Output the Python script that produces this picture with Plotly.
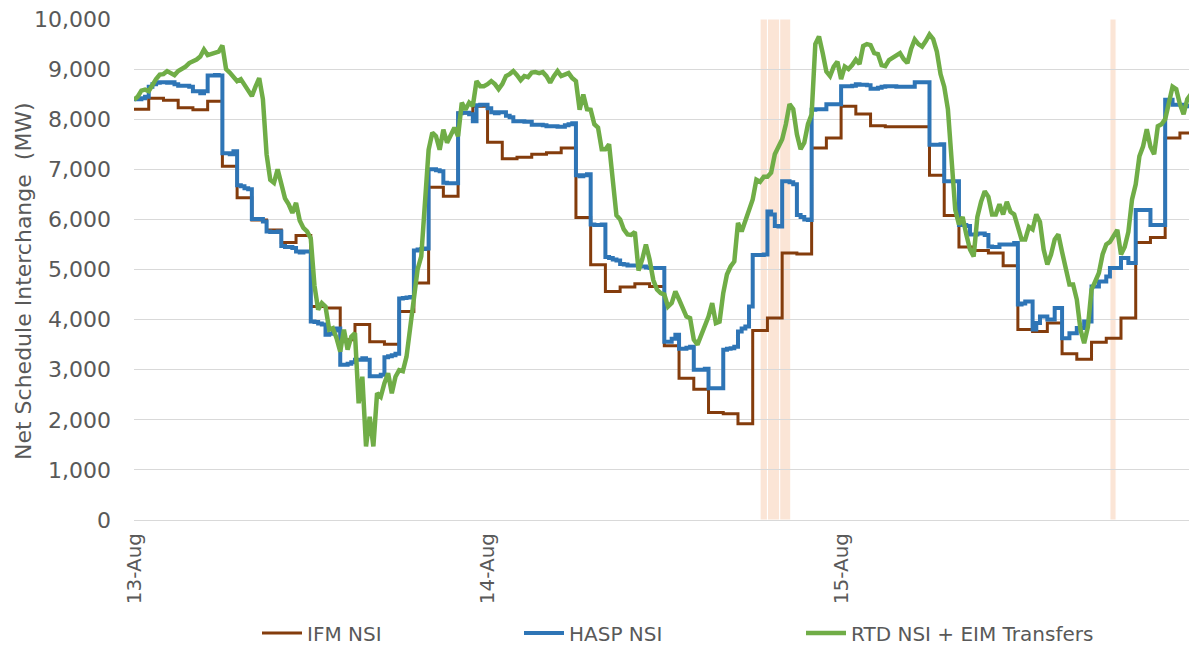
import pandas as pd
import plotly.graph_objects as go

START = "2020-08-13 00:00"
X_END = "2020-08-15 23:37"

series_names = ["IFM NSI", "HASP NSI", "RTD NSI + EIM Transfers"]
series_colors = ["#843C0C", "#2E75B6", "#70AD47"]
day_ticks = ["2020-08-13", "2020-08-14", "2020-08-15"]
y_ticks = list(range(0, 10001, 1000))

# IFM NSI, hourly (MW)
ifm_hourly = [
    8200, 8420, 8380, 8230, 8190, 8360, 7060, 6430, 5990, 5790, 5540, 5680,
    4260, 4230, 3600, 3900, 3560, 3510, 4160, 4730, 6640, 6460, 8125, 8260,
    7540, 7210, 7240, 7300, 7330, 7425, 6040, 5095, 4560, 4650, 4715, 4660,
    3480, 2830, 2610, 2145, 2120, 1920, 3780, 4030, 5330, 5310, 7425, 7625,
    8260, 8105, 7870, 7850, 7850, 7850, 6880, 6080, 5450, 5380, 5330, 5075,
    3800, 3760, 3930, 3320, 3210, 3550, 3630, 4030, 5540, 5640, 7625, 7725,
]

# HASP NSI, 15-minute (MW)
hasp_15min = [
    8400, 8400, 8420, 8450, 8650, 8700, 8730, 8740, 8740, 8730, 8740, 8700,
    8670, 8670, 8670, 8650, 8560, 8560, 8520, 8560, 8870, 8870, 8880, 8870,
    7320, 7320, 7300, 7360, 6680, 6660, 6620, 6600, 6010, 6010, 6010, 5960,
    5760, 5750, 5750, 5760, 5470, 5450, 5450, 5430, 5360, 5340, 5360, 5360,
    3960, 3950, 3920, 3900, 3700, 3720, 3780, 3820, 3100, 3100, 3120, 3150,
    3200, 3200, 3230, 3200, 2870, 2870, 2870, 2900, 3250, 3270, 3290, 3320,
    4420, 4430, 4440, 4450, 5380, 5400, 5410, 5420, 7000, 7000, 6980, 6960,
    6730, 6720, 6720, 6720, 8120, 8130, 8130, 8100, 7960, 8280, 8290, 8290,
    8220, 8140, 8120, 8140, 8140, 8070, 8040, 7960, 7960, 7960, 7950, 7950,
    7890, 7890, 7890, 7880, 7860, 7860, 7860, 7850, 7850, 7880, 7900, 7920,
    6880, 6860, 6880, 6900, 5900, 5890, 5890, 5900, 5250, 5230, 5200, 5180,
    5110, 5100, 5080, 5080, 5080, 5060, 5060, 5040, 5030, 5030, 5030, 5030,
    3560, 3560, 3620, 3700, 3420, 3420, 3440, 3460, 3000, 3000, 3000, 3020,
    2630, 2630, 2630, 2630, 3400, 3420, 3430, 3460, 3760, 3820, 3860, 4260,
    5290, 5290, 5290, 5300, 6160, 6100, 5870, 5860, 6760, 6760, 6740, 6700,
    6090, 6050, 6000, 5990, 8190, 8200, 8200, 8200, 8300, 8300, 8300, 8300,
    8660, 8660, 8660, 8670, 8700, 8690, 8690, 8680, 8610, 8610, 8630, 8650,
    8660, 8660, 8660, 8650, 8650, 8650, 8650, 8650, 8740, 8740, 8740, 8740,
    7490, 7490, 7490, 7500, 6760, 6760, 6760, 6760, 5890, 5890, 5870, 5700,
    5700, 5720, 5720, 5690, 5460, 5450, 5450, 5500, 5500, 5500, 5500, 5530,
    4300, 4320, 4360, 4360, 3800, 3930, 4060, 4060, 4000, 4000, 4230, 4230,
    3630, 3630, 3730, 3730, 3830, 3830, 3960, 3960, 4660, 4660, 4760, 4760,
    4860, 5030, 5030, 5030, 5230, 5230, 5130, 5130, 6190, 6190, 6190, 6190,
    5890, 5890, 5890, 5890, 8390, 8390, 8290, 8290, 8290, 8270, 8260, 8250,
]

# RTD NSI + EIM Transfers, 15-minute (MW)
rtd_15min = [
    8390, 8450, 8570, 8590, 8560, 8700, 8800, 8890, 8900, 8960, 8920, 8880,
    8960, 9000, 9050, 9120, 9150, 9190, 9250, 9390, 9280, 9300, 9320, 9350,
    9470, 9000, 8930, 8850, 8760, 8800, 8680, 8600, 8460, 8650, 8820, 8400,
    7300, 6790, 6730, 7000, 6700, 6420, 6300, 6130, 6330, 5980, 5830, 5760,
    5620, 4680, 4200, 4330, 4260, 3800, 3830, 3630, 3360, 3800, 3400, 3660,
    3730, 2330, 2860, 1470, 2060, 1470, 2530, 2460, 2730, 2930, 2530, 2860,
    2990, 2970, 3260, 3860, 4460, 5000, 5260, 6460, 7390, 7730, 7660, 7390,
    7790, 7530, 7700, 7830, 7660, 8330, 8190, 8330, 8260, 8760, 8660, 8660,
    8700, 8760, 8700, 8600, 8700, 8860, 8900, 8960, 8880, 8780, 8860, 8840,
    8930, 8940, 8920, 8940, 8860, 8730, 8860, 8960, 8860, 8900, 8920, 8820,
    8760, 8190, 8490, 8200, 8190, 7900, 7830, 7400, 7400, 7500, 6800, 6080,
    6000, 5800, 5700, 5690, 5750, 4980, 5200, 5500, 5200, 4790, 4600, 4530,
    4500, 4260, 4330, 4560, 4400, 4200, 4060, 4030, 3600, 3500, 3700, 3860,
    4060, 4330, 3930, 3960, 4530, 4900, 5060, 5160, 5930, 5760, 5980, 6200,
    6400, 6790, 6750, 6850, 6850, 6930, 7300, 7450, 7600, 7900, 8300, 8200,
    7700, 7400, 7530, 7900, 8100, 9500, 9650, 9320, 8950, 8860, 9050, 9150,
    8800, 9050, 9000, 9080, 9190, 9100, 9460, 9500, 9480, 9320, 9300, 9080,
    9060, 9180, 9230, 9280, 9320, 9200, 9120, 9400, 9590, 9500, 9450, 9560,
    9690, 9600, 9350, 8900, 8650, 8200, 7300, 6190, 5900, 6050, 5700, 5400,
    5260, 6050, 6350, 6560, 6450, 6100, 6100, 6300, 6100, 6350, 6150, 6100,
    5850, 5600, 5600, 5850, 5800, 6100, 5950, 5400, 5100, 5300, 5600, 5700,
    5350, 5000, 4700, 4700, 4400, 3800, 3530, 3850, 4600, 4760, 4930, 5300,
    5500, 5550, 5660, 5790, 5300, 5450, 5750, 6400, 6700, 7260, 7460, 7800,
    7450, 7300, 7860, 7900, 8000, 8300, 8650, 8600, 8300, 8100, 8400, 8500,
]

# Highlighted intervals
shade_start = ["2020-08-14 18:30", "2020-08-14 19:00", "2020-08-14 19:50", "2020-08-15 18:15"]
shade_end = ["2020-08-14 19:00", "2020-08-14 19:50", "2020-08-14 20:35", "2020-08-15 18:40"]


def step_series(values, freq):
    t = pd.date_range(START, periods=len(values) + 1, freq=freq)
    return t, list(values) + [values[-1]]


FONT = "DejaVu Sans"
GREY = "#595959"

fig = go.Figure()

x_ifm, y_ifm = step_series(ifm_hourly, "60min")
x_hasp, y_hasp = step_series(hasp_15min, "15min")
x_rtd = pd.date_range(START, periods=len(rtd_15min), freq="15min")

fig.add_trace(go.Scatter(x=x_ifm, y=y_ifm, mode="lines", name=series_names[0],
                         line=dict(color=series_colors[0], width=3, shape="hv"),
                         legend="legend", showlegend=True))
fig.add_trace(go.Scatter(x=x_hasp, y=y_hasp, mode="lines", name=series_names[1],
                         line=dict(color=series_colors[1], width=4, shape="hv"),
                         legend="legend2", showlegend=True))
fig.add_trace(go.Scatter(x=x_rtd, y=rtd_15min, mode="lines", name=series_names[2],
                         line=dict(color=series_colors[2], width=4.5),
                         legend="legend3", showlegend=True))

for s, e in zip(shade_start, shade_end):
    fig.add_shape(type="rect", xref="x", yref="paper", x0=s, x1=e, y0=0, y1=1,
                  fillcolor="#FBE5D6", line=dict(color="white", width=1), layer="below")

W, H = 1189, 648
PLOT_L, PLOT_W, PLOT_B, PLOT_H = 134, 1055, 520, 501


def px_x(p):
    return (p - PLOT_L) / PLOT_W


def px_y(p):
    return (PLOT_B - p) / PLOT_H


leg_common = dict(orientation="h", yanchor="middle", yref="container", y=(H - 633) / H,
                  xanchor="left",
                  font=dict(family=FONT, size=20, color=GREY),
                  bgcolor="rgba(0,0,0,0)", itemwidth=40)

fig.update_layout(
    width=W, height=H,
    showlegend=True,
    margin=dict(l=PLOT_L, r=0, t=19, b=128),
    paper_bgcolor="white", plot_bgcolor="white",
    font=dict(family=FONT, color=GREY),
    legend=dict(leg_common, x=px_x(257)),
    legend2=dict(leg_common, x=px_x(519)),
    legend3=dict(leg_common, x=px_x(801)),
    xaxis=dict(type="date", range=[START, X_END], tickvals=day_ticks,
               tickformat="%d-%b", tickangle=-90, showgrid=False, zeroline=False,
               showline=False, ticks="", ticklabelstandoff=8,
               tickfont=dict(family=FONT, size=20, color=GREY)),
    yaxis=dict(range=[0, 10000], tickvals=y_ticks, tickformat=",",
               showgrid=True, gridcolor="#D9D9D9", gridwidth=1,
               zeroline=True, zerolinecolor="#D9D9D9", zerolinewidth=1,
               showline=False, ticks="", ticklabelstandoff=22,
               tickfont=dict(family=FONT, size=22, color=GREY)),
    annotations=[dict(text="Net Schedule Interchange  (MW)", xref="paper", yref="paper",
                      x=px_x(23), y=px_y(281), textangle=-90, showarrow=False,
                      xanchor="center", yanchor="middle",
                      font=dict(family=FONT, size=22, color=GREY))],
)

fig.write_html("out.html", config={"displayModeBar": False},
               post_script="document.body.style.margin='0px';document.body.style.overflow='hidden';")
